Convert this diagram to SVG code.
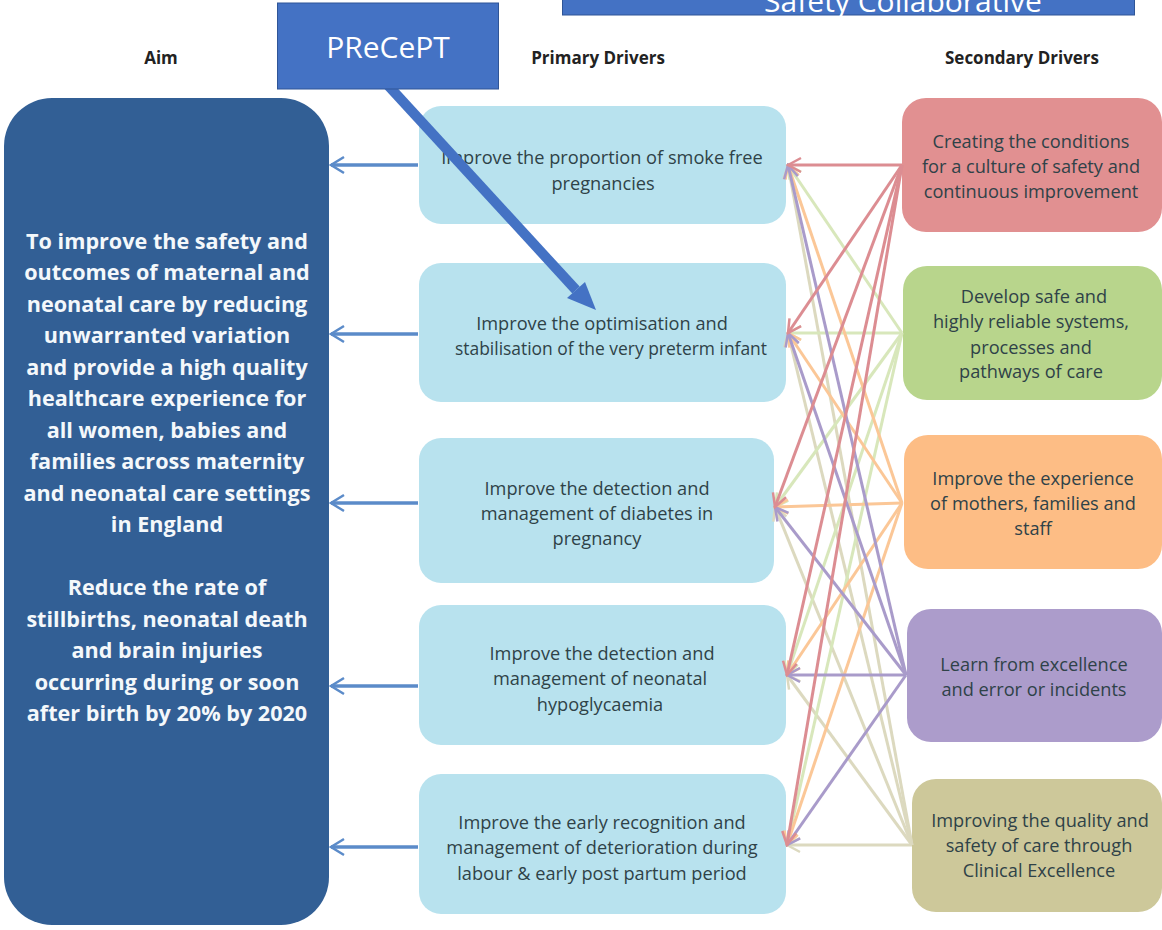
<svg xmlns="http://www.w3.org/2000/svg" width="1162" height="930" viewBox="0 0 1162 930">
<style>
text{font-family:"Open Sans","Noto Sans","DejaVu Sans",sans-serif;text-anchor:middle}
.h{font-size:17px;font-weight:700;fill:#222}
.t{font-size:18.200px;fill:#2f4248}
.a{font-size:21.600px;font-weight:700;fill:#f4f8fb}
.p{fill:#b8e2ee}
#connectors path{fill:none}
.c path{stroke-width:3}
.r path{stroke:#dc8d92;marker-end:url(#mr)}
.g path{stroke:#d8e7bb;marker-end:url(#mg)}
.o path{stroke:#fbc797;marker-end:url(#mo)}
.u path{stroke:#a99bca;marker-end:url(#mu)}
.n path{stroke:#dcd9bf;marker-end:url(#mn)}
.b path{stroke:#5b8bc9;stroke-width:3.500px;marker-end:url(#mb)}
</style>
<defs>
<marker id="mb" markerWidth="16" markerHeight="20" refX="14" refY="10" orient="auto" markerUnits="userSpaceOnUse"><path d="M1 2L14 10L1 18" fill="none" stroke="#5b8bc9" stroke-width="2.500"/></marker>
<marker id="mr" markerWidth="16" markerHeight="20" refX="14" refY="10" orient="auto" markerUnits="userSpaceOnUse"><path d="M1 3L14 10L1 17" fill="none" stroke="#dc8d92" stroke-width="2.500"/></marker>
<marker id="mg" markerWidth="16" markerHeight="20" refX="14" refY="10" orient="auto" markerUnits="userSpaceOnUse"><path d="M1 3L14 10L1 17" fill="none" stroke="#d8e7bb" stroke-width="2.500"/></marker>
<marker id="mo" markerWidth="16" markerHeight="20" refX="14" refY="10" orient="auto" markerUnits="userSpaceOnUse"><path d="M1 3L14 10L1 17" fill="none" stroke="#fbc797" stroke-width="2.500"/></marker>
<marker id="mu" markerWidth="16" markerHeight="20" refX="14" refY="10" orient="auto" markerUnits="userSpaceOnUse"><path d="M1 3L14 10L1 17" fill="none" stroke="#a99bca" stroke-width="2.500"/></marker>
<marker id="mn" markerWidth="16" markerHeight="20" refX="14" refY="10" orient="auto" markerUnits="userSpaceOnUse"><path d="M1 3L14 10L1 17" fill="none" stroke="#dcd9bf" stroke-width="2.500"/></marker>
</defs>
<rect width="1162" height="930" fill="#fff"/>
<g id="aim"><rect x="4" y="98" width="325" height="827" rx="48" fill="#325f95"/>
<text class="a"><tspan x="167" y="249">To improve the safety and</tspan><tspan x="167" y="280">outcomes of maternal and</tspan><tspan x="167" y="312">neonatal care by reducing</tspan><tspan x="167" y="343">unwarranted variation</tspan><tspan x="167" y="375">and provide a high quality</tspan><tspan x="167" y="406">healthcare experience for</tspan><tspan x="167" y="438">all women, babies and</tspan><tspan x="167" y="469">families across maternity</tspan><tspan x="167" y="501">and neonatal care settings</tspan><tspan x="167" y="532">in England</tspan><tspan x="167" y="595">Reduce the rate of</tspan><tspan x="167" y="627">stillbirths, neonatal death</tspan><tspan x="167" y="658">and brain injuries</tspan><tspan x="167" y="690">occurring during or soon</tspan><tspan x="167" y="721">after birth by 20% by 2020</tspan></text></g>
<text class="h" x="161" y="64">Aim</text>
<text class="h" x="598" y="64">Primary Drivers</text>
<text class="h" x="1022" y="64">Secondary Drivers</text>
<g id="p1"><rect class="p" x="419" y="106" width="367" height="118" rx="22"/><text class="t"><tspan x="602" y="164">Improve the proportion of smoke free</tspan><tspan x="603" y="190">pregnancies</tspan></text></g>
<g id="p2"><rect class="p" x="419" y="263" width="367" height="139" rx="22"/><text class="t"><tspan x="602" y="330">Improve the optimisation and</tspan></text><text class="t" x="611" y="355" textLength="312" lengthAdjust="spacingAndGlyphs">stabilisation of the very preterm infant</text></g>
<g id="p3"><rect class="p" x="419" y="438" width="355" height="145" rx="22"/><text class="t"><tspan x="597" y="495">Improve the detection and</tspan><tspan x="597" y="520">management of diabetes in</tspan><tspan x="597" y="545">pregnancy</tspan></text></g>
<g id="p4"><rect class="p" x="419" y="605" width="367" height="140" rx="22"/><text class="t"><tspan x="602" y="660">Improve the detection and</tspan><tspan x="600" y="685">management of neonatal</tspan><tspan x="600" y="711">hypoglycaemia</tspan></text></g>
<g id="p5"><rect class="p" x="419" y="774" width="367" height="140" rx="22"/><text class="t"><tspan x="602" y="829">Improve the early recognition and</tspan><tspan x="602" y="854">management of deterioration during</tspan><tspan x="602" y="880">labour &amp; early post partum period</tspan></text></g>
<g id="s1"><rect x="902" y="98" width="260" height="134" rx="24" fill="#e19091"/><text class="t"><tspan x="1031" y="148">Creating the conditions</tspan><tspan x="1031" y="173">for a culture of safety and</tspan><tspan x="1031" y="198">continuous improvement</tspan></text></g>
<g id="s2"><rect x="903" y="266" width="259" height="134" rx="24" fill="#b8d58c"/><text class="t"><tspan x="1034" y="303">Develop safe and</tspan><tspan x="1031" y="328">highly reliable systems,</tspan><tspan x="1031" y="354">processes and</tspan><tspan x="1031" y="378">pathways of care</tspan></text></g>
<g id="s3"><rect x="904" y="435" width="258" height="134" rx="24" fill="#fdbd85"/><text class="t"><tspan x="1033" y="485">Improve the experience</tspan><tspan x="1033" y="510">of mothers, families and</tspan><tspan x="1033" y="535">staff</tspan></text></g>
<g id="s4"><rect x="907" y="609" width="255" height="133" rx="24" fill="#ac9ccb"/><text class="t"><tspan x="1034" y="671">Learn from excellence</tspan><tspan x="1034" y="696">and error or incidents</tspan></text></g>
<g id="s5"><rect x="912" y="779" width="250" height="133" rx="24" fill="#cdc89a"/><text class="t"><tspan x="1040" y="827">Improving the quality and</tspan><tspan x="1039" y="852">safety of care through</tspan><tspan x="1039" y="877">Clinical Excellence</tspan></text></g>
<g id="connectors">
<g class="c n"><path d="M912 845L788 165"/><path d="M912 845L788 333"/><path d="M912 845L775 507"/><path d="M912 845L787 675"/><path d="M912 845L787 845"/></g>
<g class="c g"><path d="M902 333L788 165"/><path d="M902 333L788 333"/><path d="M902 333L775 507"/><path d="M902 333L787 675"/><path d="M902 333L787 845"/></g>
<g class="c o"><path d="M902 503L788 165"/><path d="M902 503L788 333"/><path d="M902 503L775 507"/><path d="M902 503L787 675"/><path d="M902 503L787 845"/></g>
<g class="c u"><path d="M906 675L788 165"/><path d="M906 675L788 333"/><path d="M906 675L775 507"/><path d="M906 675L787 675"/><path d="M906 675L787 845"/></g>
<g class="c r"><path d="M902 165L788 165"/><path d="M902 165L788 333"/><path d="M902 165L775 507"/><path d="M902 165L787 675"/><path d="M902 165L787 845"/></g>
<g class="b"><path d="M418 165H331"/><path d="M418 334H331"/><path d="M418 503H331"/><path d="M418 686H331"/><path d="M418 847H331"/></g>
</g>
<g id="precept-arrow" fill="#4472c4"><path d="M385 82L576 290" stroke="#4472c4" stroke-width="10" fill="none"/><path d="M596 310L567 298L585 282Z"/></g>
<g id="precept"><rect x="277.500" y="3" width="221" height="86" fill="#4472c4" stroke="#2f5597" stroke-width="1"/><text x="388" y="58" font-size="30" fill="#fff">PReCePT</text></g>
<g id="safety"><rect x="562.500" y="-10" width="572" height="25" fill="#4472c4" stroke="#2f5597" stroke-width="1"/><text x="903" y="12" font-size="30" fill="#fff">Safety Collaborative</text></g>
</svg>
